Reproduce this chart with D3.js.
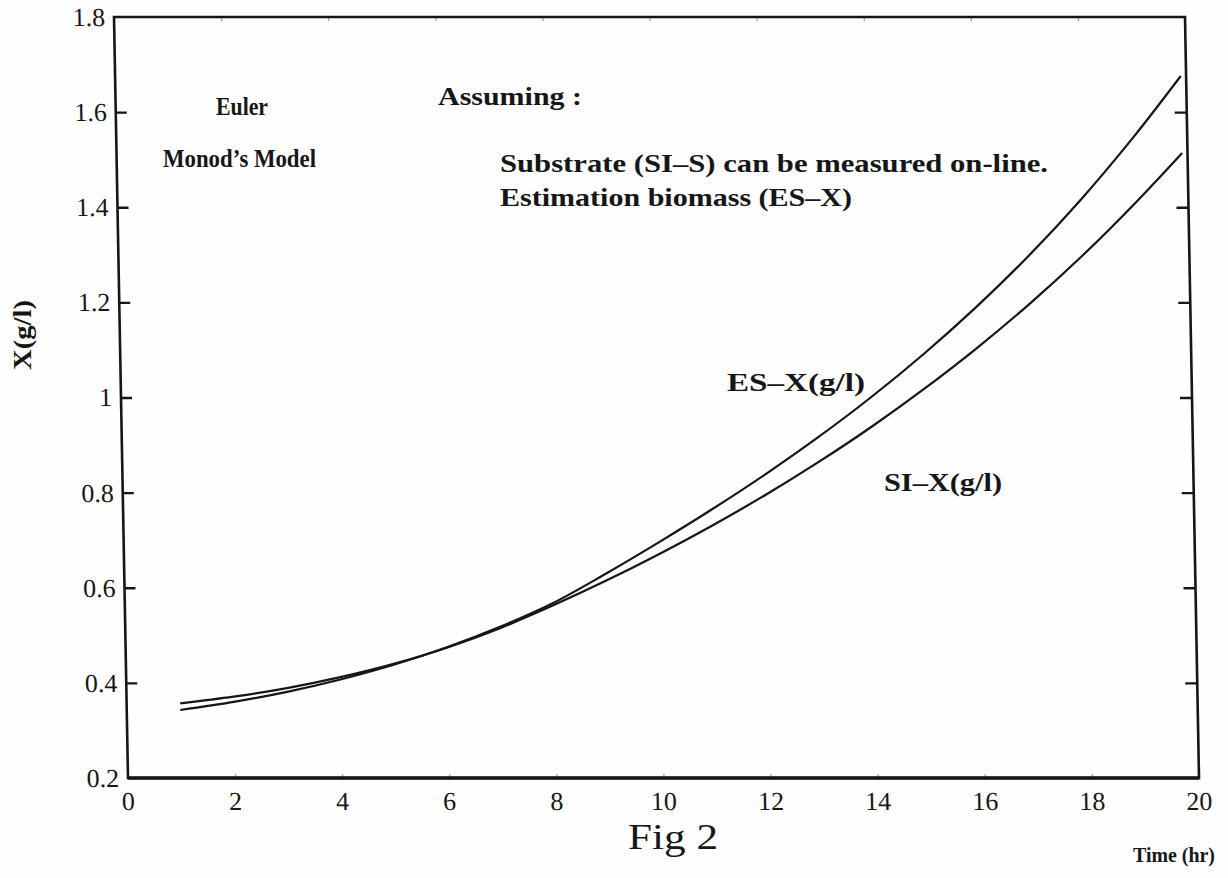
<!DOCTYPE html>
<html>
<head>
<meta charset="utf-8">
<script src="https://cdn.jsdelivr.net/npm/d3@7"></script>
<style>
  html, body { margin: 0; padding: 0; background: #fff; }
  svg { display: block; }
  text { font-family: "Liberation Serif", "Times New Roman", serif; fill: #161616; }
</style>
</head>
<body>
<svg id="chart" width="1228" height="878"></svg>
<script>
// Simulated biomass X (g/l) over time (hr), Euler integration of Monod's model
const timeHr = [1, 2, 3, 4, 5, 6, 7, 8, 9, 10, 11, 12, 13, 14, 15, 16, 17, 18, 19, 19.9];
// ES-X : estimated biomass
const esX = [0.343, 0.360, 0.381, 0.407, 0.438, 0.475, 0.518, 0.568, 0.630, 0.696,
             0.765, 0.838, 0.916, 1.000, 1.091, 1.190, 1.298, 1.417, 1.548, 1.676];
// SI-X : simulated biomass
const siX = [0.357, 0.371, 0.389, 0.412, 0.440, 0.474, 0.515, 0.563, 0.615, 0.671,
             0.731, 0.795, 0.864, 0.938, 1.018, 1.104, 1.197, 1.298, 1.408, 1.514];

const xTicks = [0, 2, 4, 6, 8, 10, 12, 14, 16, 18, 20];
const yTicks = [0.2, 0.4, 0.6, 0.8, 1.0, 1.2, 1.4, 1.6, 1.8];
const yTickLabels = ["0.2", "0.4", "0.6", "0.8", "1", "1.2", "1.4", "1.6", "1.8"];

const svg = d3.select("#chart");
svg.append("rect").attr("width", 1228).attr("height", 878).attr("fill", "#fefefe");

const plotLeft = 114, plotTop = 17, W = 1071, H = 761;
// the page is slightly sheared: the frame leans right toward the bottom
const skewDeg = Math.atan(14 / H) * 180 / Math.PI;

const x = d3.scaleLinear().domain([0, 20]).range([0, W]);
const y = d3.scaleLinear().domain([0.2, 1.8]).range([H, 0]);

const g = svg.append("g").attr("transform", `translate(${plotLeft},${plotTop}) skewX(${skewDeg})`);

const ink = "#161616";

// inward ticks on all four sides
const axLeft = d3.axisRight(y).tickValues(yTicks.slice(1, -1)).tickSize(11).tickFormat("");
const axRight = d3.axisLeft(y).tickValues(yTicks.slice(1, -1)).tickSize(12).tickFormat("");
const axBottom = d3.axisTop(x).tickValues(xTicks.slice(1, -1)).tickSize(4).tickFormat("");
const axTop = d3.axisBottom(x).tickValues(xTicks.slice(1, -1)).tickSize(4).tickFormat("");

function styleAxis(sel, w, c) {
  sel.select(".domain").remove();
  sel.selectAll(".tick line").attr("stroke", c).attr("stroke-width", w);
}
g.append("g").call(axLeft).call(styleAxis, 2.4, ink);
g.append("g").attr("transform", `translate(${W},0)`).call(axRight).call(styleAxis, 2.4, ink);
g.append("g").attr("transform", `translate(0,${H})`).call(axBottom).call(styleAxis, 1.2, "#999");
g.append("g").call(axTop).call(styleAxis, 1.2, "#999");

// frame
g.append("rect").attr("x", 0).attr("y", 0).attr("width", W).attr("height", H)
  .attr("fill", "none").attr("stroke", ink).attr("stroke-width", 2.6);
g.append("line").attr("x1", 0).attr("x2", W).attr("y1", H).attr("y2", H)
  .attr("stroke", ink).attr("stroke-width", 3.4);

// tick labels
g.selectAll(".ylab").data(yTicks).enter().append("text")
  .attr("x", -9).attr("y", d => y(d) + 9)
  .attr("text-anchor", "end").attr("font-size", 26)
  .text((d, i) => yTickLabels[i]);

g.selectAll(".xlab").data(xTicks).enter().append("text")
  .attr("x", d => x(d)).attr("y", H + 32)
  .attr("text-anchor", "middle").attr("font-size", 26)
  .text(d => d);

// curves
const line = d3.line().x(d => x(d[0])).y(d => y(d[1])).curve(d3.curveCatmullRom);
g.append("path").datum(timeHr.map((t, i) => [t, siX[i]]))
  .attr("d", line).attr("fill", "none").attr("stroke", ink).attr("stroke-width", 2.2);
g.append("path").datum(timeHr.map((t, i) => [t, esX[i]]))
  .attr("d", line).attr("fill", "none").attr("stroke", ink).attr("stroke-width", 2.2);

// annotations
function label(txt, xx, yy, size, len, weight) {
  const t = svg.append("text").attr("x", xx).attr("y", yy)
    .attr("font-size", size).attr("font-weight", weight || "bold").text(txt);
  if (len) t.attr("textLength", len).attr("lengthAdjust", "spacingAndGlyphs");
  return t;
}
label("Euler", 216, 115, 25, 52);
label("Monod\u2019s Model", 163, 167, 25, 153);
label("Assuming :", 438, 105, 25, 144);
label("Substrate (SI\u2013S) can be measured on-line.", 500, 172, 25, 548);
label("Estimation biomass (ES\u2013X)", 500, 206, 25, 352);
label("ES\u2013X(g/l)", 727, 391, 25, 138);
label("SI\u2013X(g/l)", 884, 491, 25, 118);

// axis titles
label("X(g/l)", 0, 0, 25, 70).attr("transform", "translate(31,370) rotate(-90)");
label("Time  (hr)", 1133, 862, 22, 82);
label("Fig 2", 628, 849, 36, 90, "normal");
</script>
</body>
</html>
